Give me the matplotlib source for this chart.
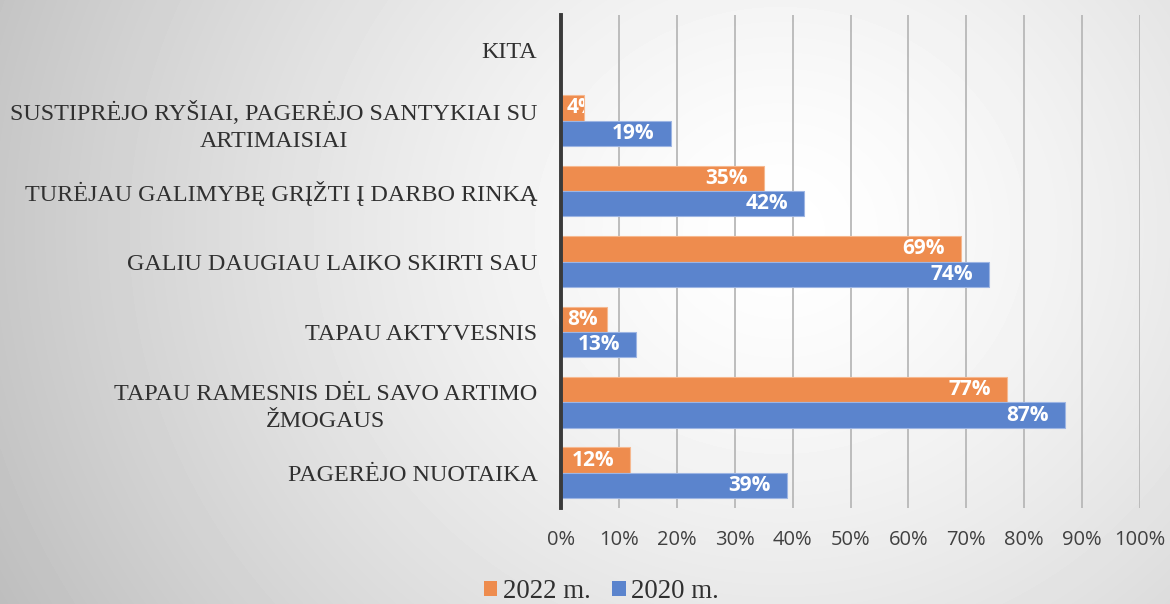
import numpy as np
import matplotlib
matplotlib.use('Agg')
import matplotlib.pyplot as plt

# data (top to bottom as in the chart)
categories = [
    'KITA',
    'SUSTIPRĖJO RYŠIAI, PAGERĖJO SANTYKIAI SU\nARTIMAISIAI',
    'TURĖJAU GALIMYBĘ GRĮŽTI Į DARBO RINKĄ',
    'GALIU DAUGIAU LAIKO SKIRTI SAU',
    'TAPAU AKTYVESNIS',
    'TAPAU RAMESNIS DĖL SAVO ARTIMO\nŽMOGAUS',
    'PAGERĖJO NUOTAIKA',
]
values_2022 = [None, 4, 35, 69, 8, 77, 12]
values_2020 = [None, 19, 42, 74, 13, 87, 39]
series_names = ['2022 m.', '2020 m.']
x_ticks = [0, 10, 20, 30, 40, 50, 60, 70, 80, 90, 100]

orange = '#EE8C4E'
blue = '#5B84CD'

fig = plt.figure(figsize=(11.7, 6.04), dpi=100)

# background: radial gray gradient
bg = fig.add_axes([0, 0, 1, 1], zorder=-10)
h, w = 604, 1170
yy, xx = np.mgrid[0:h, 0:w]
d = np.sqrt((xx - 780.0) ** 2 + ((yy - 230.0) * 1.1) ** 2) / 840.0
shade = np.clip(1.0 - 0.24 * d ** 1.4, 0, 1)
bg.imshow(shade, cmap='gray', vmin=0, vmax=1, aspect='auto', interpolation='bilinear')
bg.axis('off')

ax = fig.add_axes([561 / 1170, 1 - 508 / 604, 579 / 1170, 493 / 604])
ax.patch.set_alpha(0)

y = np.arange(len(categories))
bh = 0.36
bars = []
for i, (v22, v20) in enumerate(zip(values_2022, values_2020)):
    if v22 is not None:
        b = ax.barh(y[i] - bh / 2, v22, height=bh, color=orange,
                    edgecolor='#F6B88F', linewidth=0.8, zorder=3)
        bars.append((b[0], v22))
    if v20 is not None:
        b = ax.barh(y[i] + bh / 2, v20, height=bh, color=blue,
                    edgecolor='#9DB5E3', linewidth=0.8, zorder=3)
        bars.append((b[0], v20))

# legend proxies
ax.barh([0], [0], color=orange, label=series_names[0])
ax.barh([0], [0], color=blue, label=series_names[1])

ax.set_xlim(0, 100)
ax.set_ylim(len(categories) - 0.5, -0.5)
ax.set_yticks(y)
ax.set_yticklabels(categories, fontfamily='Liberation Serif', fontsize=17.4,
                   color='#303030', multialignment='center', linespacing=1.4)
ax.tick_params(axis='y', length=0, pad=17)
ax.set_xticks(x_ticks)
ax.set_xticklabels([f'{t}%' for t in x_ticks], fontfamily='Open Sans',
                   fontsize=14.5, color='#404040')
ax.tick_params(axis='x', length=0, pad=16)
ax.grid(axis='x', color='#b8b8b8', linewidth=1.3, zorder=0)
ax.set_axisbelow(True)
for s in ['top', 'right', 'bottom']:
    ax.spines[s].set_visible(False)
ax.spines['left'].set_color('#3a3a3a')
ax.spines['left'].set_linewidth(2.8)
ax.spines['left'].set_zorder(5)

# data labels inside end, clipped to the bar
for patch, v in bars:
    yc = patch.get_y() + patch.get_height() / 2
    if v >= 10:
        t = ax.text(v - 2.8, yc, f'{v}%', ha='right', va='center', color='white',
                    fontweight='bold', fontfamily='Open Sans', fontsize=15, zorder=4)
    else:
        t = ax.text(1.0, yc, f'{v}%', ha='left', va='center', color='white',
                    fontweight='bold', fontfamily='Open Sans', fontsize=15, zorder=4,
                    clip_on=True)
        t.set_clip_path(patch)

leg = fig.legend(loc='lower center', bbox_to_anchor=(0.514, -0.04), ncol=2,
                 frameon=False, prop={'family': 'Liberation Serif', 'size': 19.4},
                 handlelength=0.5, handleheight=0.5, handletextpad=0.2,
                 columnspacing=0.8)
for txt in leg.get_texts():
    txt.set_color('#303030')

fig.savefig('out.png', dpi=100)
